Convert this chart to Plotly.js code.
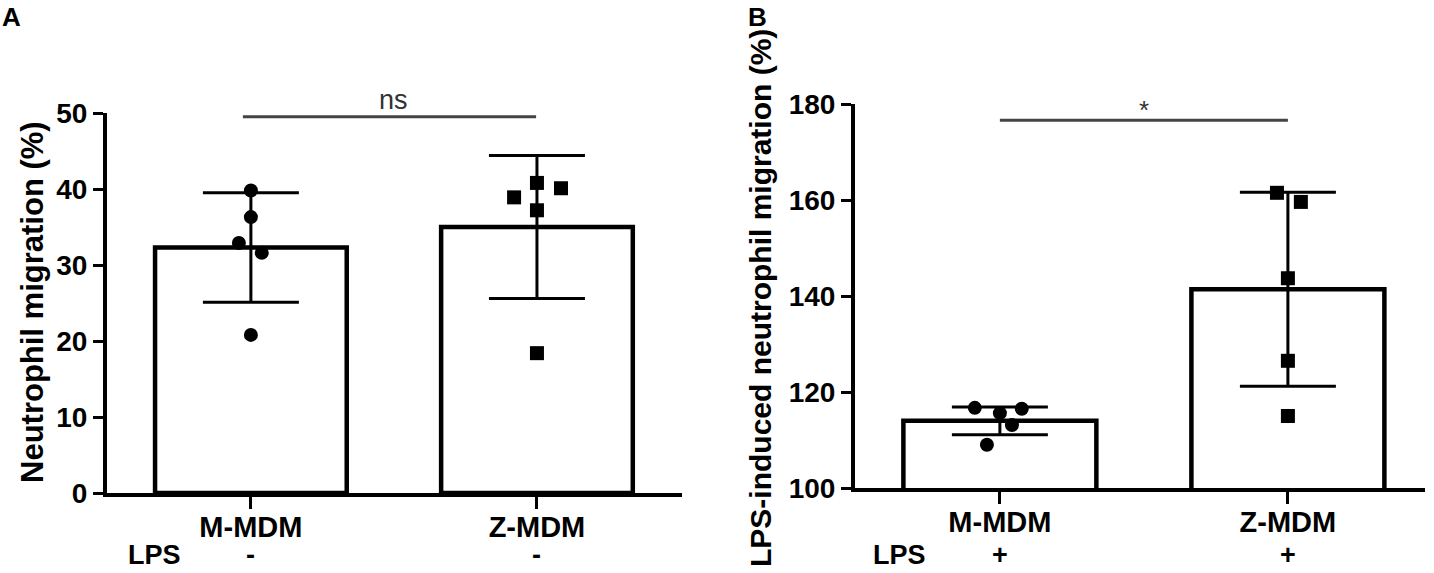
<!DOCTYPE html>
<html>
<head>
<meta charset="utf-8">
<script src="https://cdn.plot.ly/plotly-3.0.1.min.js"></script>
<style>
  html, body { margin: 0; padding: 0; background: #fff; }
  #graph { width: 1434px; height: 573px; }
</style>
</head>
<body>
<div id="graph"></div>
<script>
const groups = ['M-MDM', 'Z-MDM']
const lpsA = ['-', '-']
const lpsB = ['+', '+']

// panel A: neutrophil migration (%)
const meanA = [32.3, 35.0]
const sdA = [7.2, 9.4]
const pointsA_M = [39.8, 36.3, 32.9, 31.6, 20.8]
const pointsA_Z = [38.9, 40.8, 40.1, 37.2, 18.4]

// panel B: LPS-induced neutrophil migration (%)
const meanB = [114.0, 141.4]
const sdB = [2.9, 20.2]
const pointsB_M = [116.7, 115.6, 113.1, 116.5, 109.0]
const pointsB_Z = [161.5, 159.6, 143.7, 126.5, 115.0]

// horizontal scatter of the dots, in category units
const jitterA_M = [0, 0, -0.042, 0.038, 0]
const jitterA_Z = [-0.08, 0, 0.084, 0, 0]
const jitterB_M = [-0.087, 0, 0.042, 0.076, -0.045]
const jitterB_Z = [-0.038, 0.045, 0, 0, 0]

const W = 1434, H = 573
const px = v => v / W
const py = v => (H - v) / H

function barTrace(means, sds, xa, ya) {
  return {
    type: 'bar',
    x: [0, 1],
    y: means,
    width: 0.67,
    xaxis: xa,
    yaxis: ya,
    marker: { color: '#fff', line: { color: '#000', width: 4.5 } },
    error_y: { type: 'data', array: sds, visible: true, color: '#000', thickness: 3, width: 48 },
    hoverinfo: 'skip'
  }
}

function dotTrace(idx, values, jitter, symbol, xa, ya) {
  return {
    type: 'scatter',
    mode: 'markers',
    x: values.map((v, i) => idx + jitter[i]),
    y: values,
    xaxis: xa,
    yaxis: ya,
    cliponaxis: false,
    marker: { symbol: symbol, size: 14, color: '#000' },
    hoverinfo: 'skip'
  }
}

const data = [
  barTrace(meanA, sdA, 'x', 'y'),
  barTrace(meanB, sdB, 'x2', 'y2'),
  dotTrace(0, pointsA_M, jitterA_M, 'circle', 'x', 'y'),
  dotTrace(1, pointsA_Z, jitterA_Z, 'square', 'x', 'y'),
  dotTrace(0, pointsB_M, jitterB_M, 'circle', 'x2', 'y2'),
  dotTrace(1, pointsB_Z, jitterB_Z, 'square', 'x2', 'y2')
]

const FAMILY = 'Liberation Sans, Arial, sans-serif'

function xAxis(domain, range) {
  return {
    domain: domain,
    range: range,
    tickvals: [0, 1],
    ticktext: groups,
    ticks: 'outside',
    ticklen: 12,
    tickwidth: 3,
    tickcolor: '#000',
    ticklabelstandoff: -7,
    showline: true,
    linecolor: '#000',
    linewidth: 4,
    showgrid: false,
    zeroline: false,
    tickfont: { family: FAMILY, size: 29, color: '#000', weight: 'bold' },
    fixedrange: true
  }
}

function yAxis(domain, range, dtick, anchor) {
  return {
    domain: domain,
    range: range,
    anchor: anchor,
    dtick: dtick,
    tick0: range[0],
    ticks: 'outside',
    ticklen: 10,
    tickwidth: 3,
    tickcolor: '#000',
    showline: true,
    linecolor: '#000',
    linewidth: 4,
    showgrid: false,
    zeroline: false,
    tickfont: { family: FAMILY, size: 28, color: '#000', weight: 'bold' },
    fixedrange: true
  }
}

const bold = (t, size, extra) => Object.assign({
  text: '<b>' + t + '</b>',
  showarrow: false,
  xanchor: 'center',
  yanchor: 'middle',
  font: { family: FAMILY, size: size, color: '#000' }
}, extra)

const annotations = [
  bold('A', 26, { xref: 'paper', yref: 'paper', x: 0, y: 1, xanchor: 'left', yanchor: 'top' }),
  bold('B', 26, { xref: 'paper', yref: 'paper', x: px(746), y: 1, xanchor: 'left', yanchor: 'top' }),
  bold('Neutrophil migration (%)', 31, { xref: 'paper', yref: 'paper', x: px(32), y: py(302), textangle: -90 }),
  bold('LPS-induced neutrophil migration (%)', 30, { xref: 'paper', yref: 'paper', x: px(761), y: py(298), textangle: -90 }),
  bold('LPS', 27, { xref: 'paper', yref: 'paper', x: px(154), y: py(555) }),
  bold('LPS', 27, { xref: 'paper', yref: 'paper', x: px(899), y: py(555) }),
  {
    text: 'ns', xref: 'x', yref: 'paper', x: 0.5, y: py(100), xanchor: 'center', yanchor: 'middle', showarrow: false,
    font: { family: FAMILY, size: 27, color: '#333' }
  },
  {
    text: '*', xref: 'x2', yref: 'paper', x: 0.5, y: py(110), xanchor: 'center', yanchor: 'middle', showarrow: false,
    font: { family: FAMILY, size: 26, color: '#333' }
  }
]
lpsA.forEach((s, i) => annotations.push(bold(s, 27, { xref: 'x', yref: 'paper', x: i, y: py(555) })))
lpsB.forEach((s, i) => annotations.push(bold(s, 27, { xref: 'x2', yref: 'paper', x: i, y: py(555) })))

const shapes = [
  { type: 'line', xref: 'x', yref: 'y', x0: -0.028, x1: 0.997, y0: 49.5, y1: 49.5, line: { color: '#444', width: 3 } },
  { type: 'line', xref: 'x2', yref: 'y2', x0: 0, x1: 1.0, y0: 176.6, y1: 176.6, line: { color: '#444', width: 3 } }
]

const layout = {
  width: W,
  height: H,
  margin: { l: 0, r: 0, t: 0, b: 0 },
  paper_bgcolor: '#fff',
  plot_bgcolor: '#fff',
  showlegend: false,
  bargap: 0,
  xaxis: xAxis([px(107), px(682)], [-0.503, 1.507]),
  yaxis: yAxis([py(493), py(113)], [0, 50], 10, 'x'),
  xaxis2: xAxis([px(855), px(1425)], [-0.503, 1.476]),
  yaxis2: yAxis([py(488), py(104)], [100, 180], 20, 'x2'),
  annotations: annotations,
  shapes: shapes
}
layout.xaxis.anchor = 'y'
layout.xaxis2.anchor = 'y2'

Plotly.newPlot('graph', data, layout, { staticPlot: true, displayModeBar: false })
</script>
</body>
</html>
